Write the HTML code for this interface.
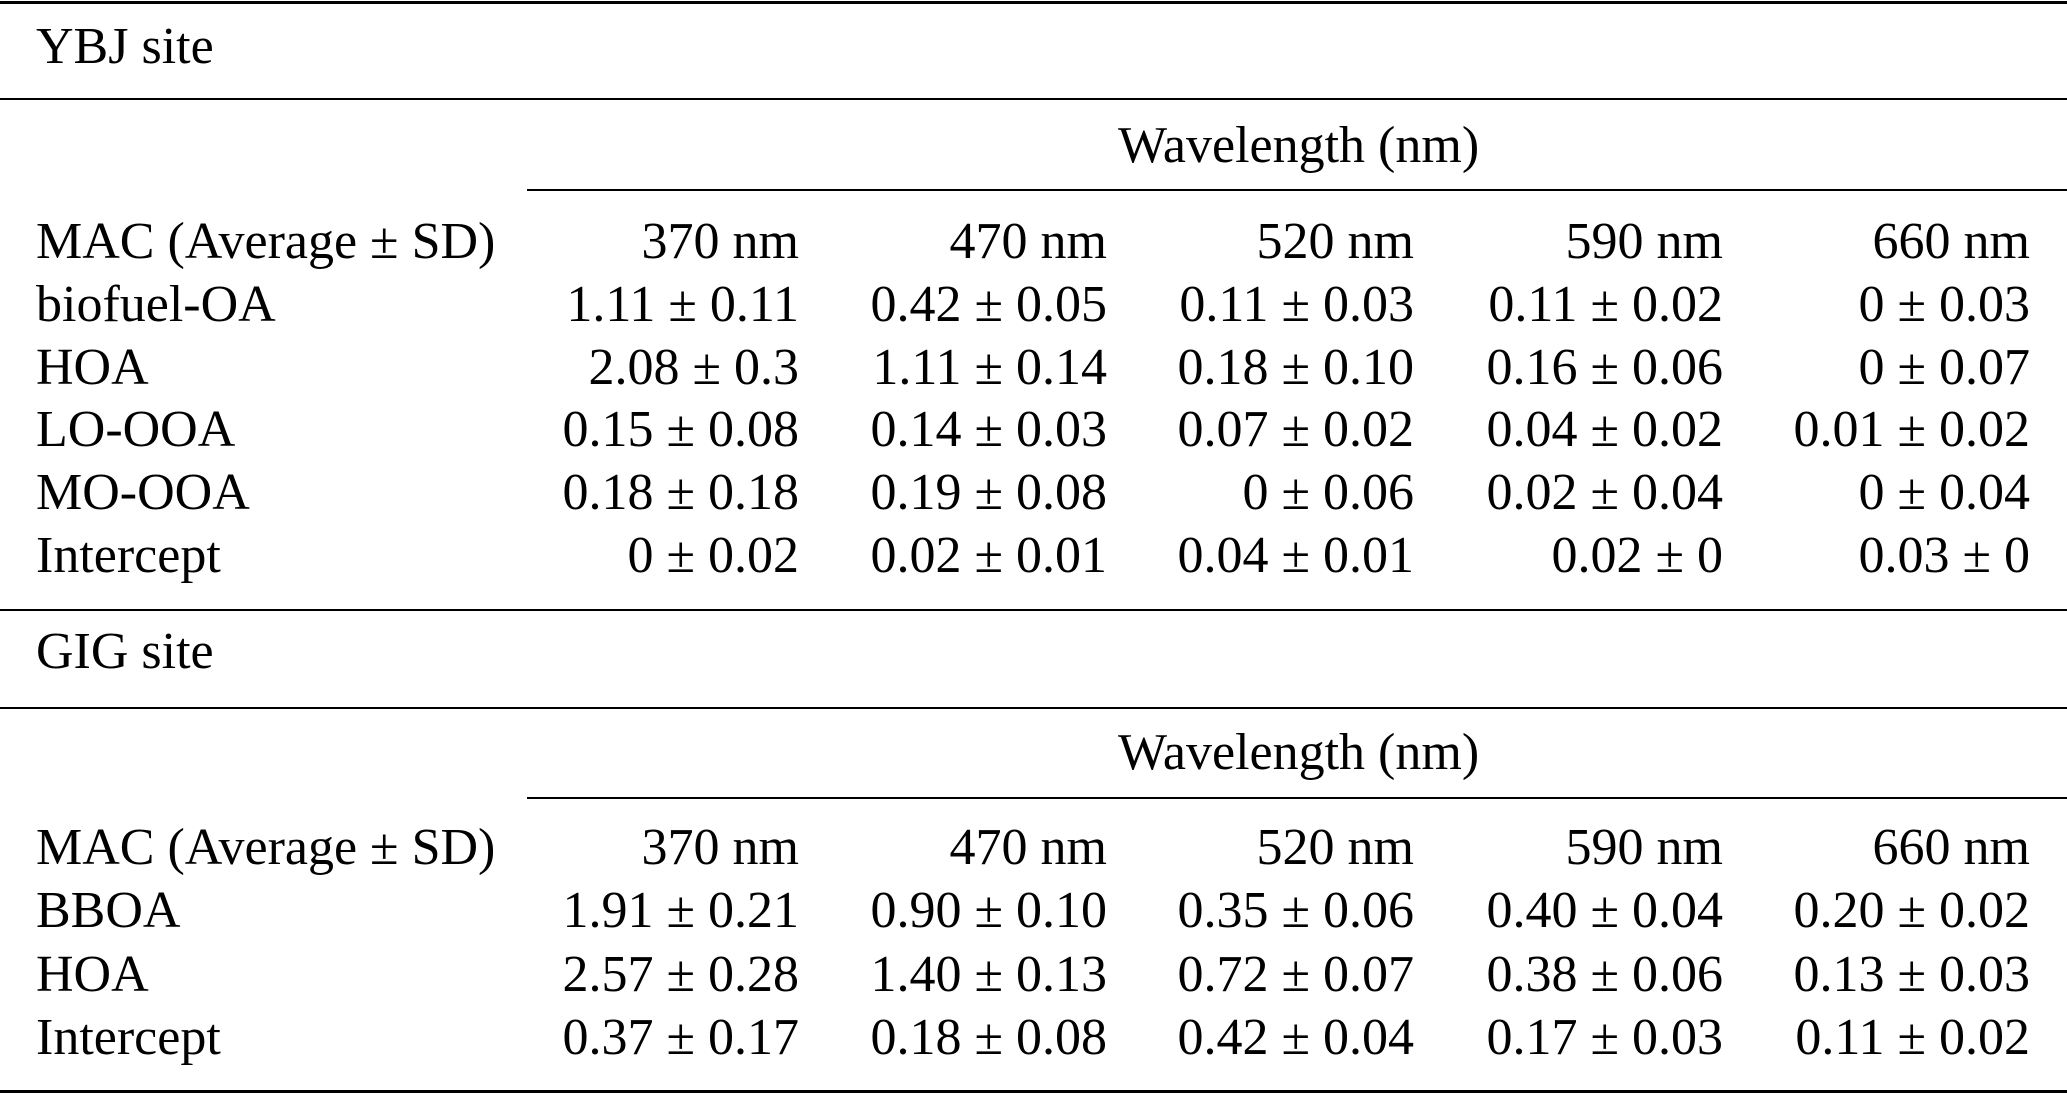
<!DOCTYPE html>
<html><head><meta charset="utf-8"><style>
html,body{margin:0;padding:0;background:#fff;}
#t{position:relative;width:2067px;height:1094px;overflow:hidden;font-family:"Liberation Serif",serif;font-size:52px;color:#000;}
.ln{position:absolute;background:#000;}
.tx{position:absolute;line-height:52px;white-space:nowrap;}
.r{text-align:right;width:400px;}
</style></head><body>
<div id="t"></div>
<script>
const ybjRows = ["biofuel-OA","HOA","LO-OOA","MO-OOA","Intercept"];
const ybjVals = [
 ["1.11 ± 0.11","0.42 ± 0.05","0.11 ± 0.03","0.11 ± 0.02","0 ± 0.03"],
 ["2.08 ± 0.3","1.11 ± 0.14","0.18 ± 0.10","0.16 ± 0.06","0 ± 0.07"],
 ["0.15 ± 0.08","0.14 ± 0.03","0.07 ± 0.02","0.04 ± 0.02","0.01 ± 0.02"],
 ["0.18 ± 0.18","0.19 ± 0.08","0 ± 0.06","0.02 ± 0.04","0 ± 0.04"],
 ["0 ± 0.02","0.02 ± 0.01","0.04 ± 0.01","0.02 ± 0","0.03 ± 0"]];
const gigRows = ["BBOA","HOA","Intercept"];
const gigVals = [
 ["1.91 ± 0.21","0.90 ± 0.10","0.35 ± 0.06","0.40 ± 0.04","0.20 ± 0.02"],
 ["2.57 ± 0.28","1.40 ± 0.13","0.72 ± 0.07","0.38 ± 0.06","0.13 ± 0.03"],
 ["0.37 ± 0.17","0.18 ± 0.08","0.42 ± 0.04","0.17 ± 0.03","0.11 ± 0.02"]];
const wavelengths = ["370 nm","470 nm","520 nm","590 nm","660 nm"];
const colRight = [799,1107,1414,1723,2030];
const T = document.getElementById('t');
function line(x,y,w,h,name){
  const d=document.createElement('div');d.className='ln';
  d.style.cssText=`left:${x}px;top:${y}px;width:${w}px;height:${h}px`;
  
  
  T.appendChild(d);
}
function text(s,cy,x,right,name){
  const d=document.createElement('div');d.className='tx'+(right?' r':'');
  d.textContent=s;
  d.style.top=(cy-28)+'px';
  d.style.left=(right? x-400 : x)+'px';
  
  
  T.appendChild(d);
}
function section(title, tY, wY, headY, rows, vals, pitch, prefix){
  text(title,tY,36,false,prefix+'-site-title');
  const w=document.createElement('div');w.className='tx';w.textContent='Wavelength (nm)';
  w.style.top=(wY-28)+'px';w.style.left='1118px';
  
  
  T.appendChild(w);
  text('MAC (Average ± SD)',headY,36,false,prefix+'-mac-header');
  wavelengths.forEach((s,i)=>text(s,headY,colRight[i],true,prefix+'-col-header'));
  rows.forEach((r,j)=>{
    const cy=headY+pitch*(j+1);
    text(r,cy,36,false,prefix+'-row-label');
    vals[j].forEach((v,i)=>text(v,cy,colRight[i],true,prefix+'-cell'));
  });
}
line(0,1,2067,3,'top-rule');
line(0,98,2067,2,'ybj-title-rule');
line(527,189,1540,2,'ybj-wavelength-rule');
line(0,609,2067,2,'section-rule');
line(0,707,2067,2,'gig-title-rule');
line(527,797,1540,2,'gig-wavelength-rule');
line(0,1090,2067,3,'bottom-rule');
section('YBJ site',49,148,244,ybjRows,ybjVals,62.8,'ybj');
section('GIG site',654,755,850,gigRows,gigVals,63.3,'gig');
</script>
</body></html>
